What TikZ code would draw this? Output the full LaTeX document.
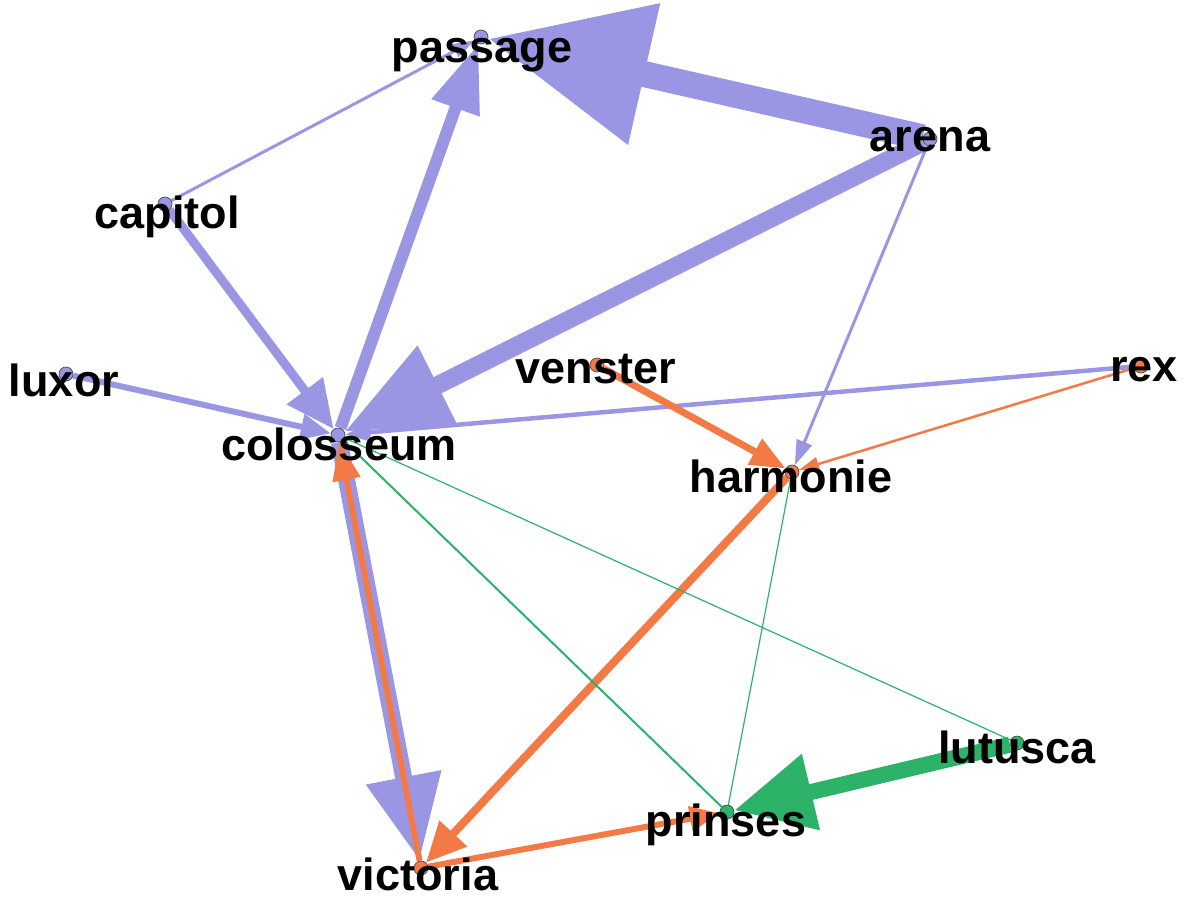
\documentclass[tikz,border=0pt]{standalone}
\usepackage{fontspec}
\setmainfont{Liberation Sans}
\usetikzlibrary{arrows.meta}
\pgfdeclarelayer{edges}
\pgfsetlayers{edges,main}
\definecolor{lila}{RGB}{155,150,227}
\definecolor{oranje}{RGB}{244,122,69}
\definecolor{groen}{RGB}{44,178,105}
\tikzset{
  stip/.style={circle, draw=black!70, line width=0.7pt, fill=#1, inner sep=0pt, minimum size=14pt},
  naam/.style={anchor=base, inner sep=0pt, font=\fontsize{45}{54}\selectfont\bfseries},
  pijl/.style n args={3}{line width=#1, -{Triangle[length=#2, width=#3]}},
}

\begin{document}
\begin{tikzpicture}[x=1pt, y=-1pt]
  \useasboundingbox (0,0) rectangle (1187,900);

  \node[stip=lila] (passage) at (481,37) {};
  \node[stip=lila] (arena) at (930,139) {};
  \node[stip=lila] (capitol) at (165,204) {};
  \node[stip=lila] (luxor) at (66,374) {};
  \node[stip=lila] (colosseum) at (338,435) {};
  \node[stip=oranje] (venster) at (597,365) {};
  \node[stip=oranje] (rex) at (1141,366) {};
  \node[stip=oranje] (harmonie) at (792,472) {};
  \node[stip=oranje] (victoria) at (421,868) {};
  \node[stip=groen] (lutusca) at (1017,743) {};
  \node[stip=groen] (prinses) at (727,812) {};

  \begin{pgfonlayer}{edges}
    \draw[lila, pijl={26pt}{160pt}{138pt}] (arena) -- (passage);
    \draw[lila, pijl={18pt}{104pt}{84pt}] (arena) -- (colosseum);
    \draw[lila, pijl={3pt}{25pt}{16pt}] (arena) -- (harmonie);
    \draw[lila, pijl={3pt}{22pt}{14pt}] (capitol) -- (passage);
    \draw[lila, pijl={12pt}{68pt}{48pt}] (colosseum) -- (passage);
    \draw[lila, pijl={9pt}{48pt}{43pt}] (capitol) -- (colosseum);
    \draw[lila, pijl={6pt}{30pt}{25pt}] (luxor) -- (colosseum);
    \draw[lila, pijl={4.5pt}{25pt}{18pt}] (rex) -- (colosseum);
    \draw[lila, pijl={17pt}{85pt}{72pt}] (colosseum) -- (victoria);
    \draw[oranje, pijl={6pt}{38pt}{27pt}] (victoria) -- (colosseum);
    \draw[oranje, pijl={7pt}{35pt}{28pt}] (venster) -- (harmonie);
    \draw[oranje, pijl={2.5pt}{20pt}{14pt}] (rex) -- (harmonie);
    \draw[oranje, pijl={8pt}{40pt}{36pt}] (harmonie) -- (victoria);
    \draw[oranje, pijl={6pt}{30pt}{24pt}] (victoria) -- (prinses);
    \draw[groen, pijl={16pt}{79pt}{74pt}] (lutusca) -- (prinses);
    \draw[groen, line width=2pt] (colosseum) -- (prinses);
    \draw[groen, line width=1.2pt] (colosseum) -- (lutusca);
    \draw[groen, line width=1.2pt] (harmonie) -- (prinses);
  \end{pgfonlayer}

  \node[naam] (passage-t) at (482,62) {passage};
  \node[naam] (arena-t) at (930,151) {arena};
  \node[naam] (capitol-t) at (167,228) {capitol};
  \node[naam] (luxor-t) at (64,396) {luxor};
  \node[naam] (colosseum-t) at (339,460) {colosseum};
  \node[naam] (venster-t) at (596,383) {venster};
  \node[naam] (rex-t) at (1144,381) {rex};
  \node[naam] (harmonie-t) at (791,492) {harmonie};
  \node[naam] (lutusca-t) at (1017,763) {lutusca};
  \node[naam] (prinses-t) at (726,836) {prinses};
  \node[naam] (victoria-t) at (418,890) {victoria};
\end{tikzpicture}
\end{document}
